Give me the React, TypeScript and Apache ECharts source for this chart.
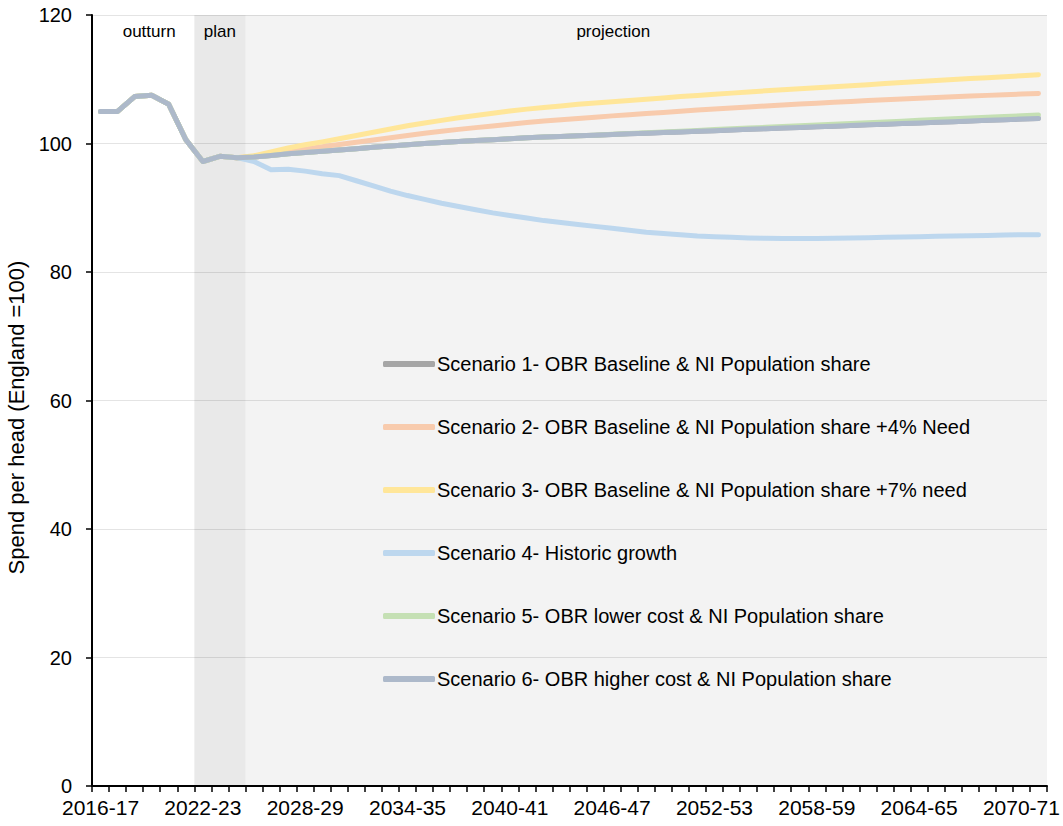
import React, { useEffect, useRef } from "react";
import * as echarts from "echarts";

const years: string[] = [
  "2016-17", "2017-18", "2018-19", "2019-20", "2020-21", "2021-22", "2022-23", "2023-24",
  "2024-25", "2025-26", "2026-27", "2027-28", "2028-29", "2029-30", "2030-31", "2031-32",
  "2032-33", "2033-34", "2034-35", "2035-36", "2036-37", "2037-38", "2038-39", "2039-40",
  "2040-41", "2041-42", "2042-43", "2043-44", "2044-45", "2045-46", "2046-47", "2047-48",
  "2048-49", "2049-50", "2050-51", "2051-52", "2052-53", "2053-54", "2054-55", "2055-56",
  "2056-57", "2057-58", "2058-59", "2059-60", "2060-61", "2061-62", "2062-63", "2063-64",
  "2064-65", "2065-66", "2066-67", "2067-68", "2068-69", "2069-70", "2070-71", "2071-72",
];

// outturn + plan years (2016-17 .. 2024-25), common to every scenario
const history: number[] = [105.0, 105.0, 107.3, 107.5, 106.1, 100.6, 97.2, 98.0, 97.8];

// projections 2025-26 .. 2071-72
const scen1: number[] = [
  97.9, 98.15, 98.4, 98.6, 98.8, 99.0, 99.2, 99.4, 99.6, 99.8, 100.0, 100.15, 100.3, 100.45,
  100.6, 100.75, 100.9, 101.0, 101.1, 101.2, 101.3, 101.4, 101.5, 101.6, 101.7, 101.8, 101.9,
  102.0, 102.1, 102.2, 102.3, 102.4, 102.5, 102.6, 102.7, 102.8, 102.9, 103.0, 103.1, 103.2,
  103.3, 103.4, 103.5, 103.6, 103.7, 103.8, 103.9,
];
const scen2: number[] = [
  98.0, 98.4, 98.8, 99.15, 99.5, 99.85, 100.2, 100.55, 100.9, 101.25, 101.6, 101.9, 102.2,
  102.47, 102.74, 103.01, 103.28, 103.5, 103.7, 103.9, 104.1, 104.3, 104.48, 104.66, 104.84,
  105.02, 105.2, 105.36, 105.52, 105.68, 105.84, 106.0, 106.14, 106.28, 106.42, 106.55, 106.68,
  106.8, 106.92, 107.04, 107.16, 107.27, 107.38, 107.49, 107.6, 107.7, 107.8,
];
const scen3: number[] = [
  98.1, 98.7, 99.3, 99.8, 100.25, 100.75, 101.25, 101.75, 102.25, 102.75, 103.2, 103.6, 104.0,
  104.35, 104.7, 105.05, 105.35, 105.6, 105.85, 106.1, 106.3, 106.5, 106.7, 106.9, 107.1, 107.3,
  107.48, 107.66, 107.84, 108.02, 108.2, 108.36, 108.52, 108.68, 108.84, 109.0, 109.16, 109.32,
  109.48, 109.64, 109.8, 109.95, 110.1, 110.25, 110.4, 110.55, 110.7,
];
const scen4: number[] = [
  97.2, 95.9, 96.0, 95.7, 95.3, 95.0, 94.2, 93.4, 92.6, 91.9, 91.3, 90.7, 90.2, 89.7, 89.2, 88.8,
  88.4, 88.0, 87.7, 87.4, 87.1, 86.8, 86.5, 86.2, 86.0, 85.8, 85.6, 85.5, 85.4, 85.3, 85.25, 85.2,
  85.2, 85.2, 85.25, 85.3, 85.35, 85.4, 85.45, 85.5, 85.55, 85.6, 85.65, 85.7, 85.75, 85.8, 85.8,
];
const scen5: number[] = [
  97.9, 98.15, 98.4, 98.6, 98.8, 99.0, 99.2, 99.4, 99.6, 99.8, 100.0, 100.15, 100.3, 100.45,
  100.6, 100.75, 100.9, 101.0, 101.1, 101.2, 101.3, 101.45, 101.57, 101.68, 101.8, 101.92, 102.04,
  102.16, 102.28, 102.4, 102.52, 102.64, 102.76, 102.88, 103.0, 103.12, 103.24, 103.36, 103.48,
  103.6, 103.72, 103.84, 103.96, 104.08, 104.2, 104.32, 104.45,
];
const scen6: number[] = [
  97.9, 98.15, 98.4, 98.6, 98.8, 99.0, 99.2, 99.4, 99.6, 99.8, 100.0, 100.15, 100.3, 100.45,
  100.6, 100.75, 100.9, 101.0, 101.1, 101.2, 101.3, 101.4, 101.5, 101.6, 101.7, 101.8, 101.9,
  102.0, 102.1, 102.2, 102.3, 102.4, 102.5, 102.6, 102.7, 102.8, 102.9, 103.0, 103.1, 103.2,
  103.3, 103.4, 103.5, 103.6, 103.7, 103.8, 103.9,
];

const seriesNames: string[] = [
  "Scenario 1- OBR Baseline & NI Population share",
  "Scenario 2- OBR Baseline & NI Population share +4% Need",
  "Scenario 3- OBR Baseline & NI Population share +7% need",
  "Scenario 4- Historic growth",
  "Scenario 5- OBR lower cost & NI Population share",
  "Scenario 6- OBR higher cost & NI Population share",
];
const seriesColors: string[] = ["#a6a6a6", "#f8cbad", "#ffe699", "#bdd7ee", "#c5e0b4", "#adb9ca"];
const projections: number[][] = [scen1, scen2, scen3, scen4, scen5, scen6];

// period bands, in category index boundaries
const periodNames: string[] = ["outturn", "plan", "projection"];
const periodStart: number[] = [0, 6, 9];
const periodEnd: number[] = [6, 9, 56];

export default function App() {
  const ref = useRef<HTMLDivElement>(null);
  useEffect(() => {
    if (!ref.current) return;
    const chart = echarts.init(ref.current, null, { renderer: "svg" });
    const font = "'Liberation Sans', Arial, sans-serif";
    const bandColors = ["rgba(0,0,0,0)", "rgba(0,0,0,0.085)", "rgba(0,0,0,0.047)"];
    const bandOffsets = [[6, 0], [0, 0], [-33, 0]];

    const lineSeries = seriesNames.map((name, k) => ({
      name,
      type: "line",
      data: [...history, ...projections[k]],
      symbol: "none",
      z: 3 + k,
      lineStyle: { color: seriesColors[k], width: 5, cap: "round", join: "round" },
      itemStyle: { color: seriesColors[k] },
    }));

    chart.setOption({
      animation: false,
      textStyle: { fontFamily: font },
      grid: { left: 92, right: 16, top: 15, bottom: 40, containLabel: false, outerBoundsMode: "none" },
      legend: {
        orient: "vertical",
        left: 378,
        top: 349,
        itemWidth: 52,
        itemHeight: 6,
        itemGap: 43,
        icon: "roundRect",
        data: seriesNames,
        textStyle: { fontSize: 20, color: "#000", fontFamily: font, lineHeight: 20, padding: [0, 0, 0, -3] },
      },
      xAxis: [
        {
          type: "category",
          data: years,
          boundaryGap: true,
          axisLine: { lineStyle: { color: "#000", width: 2 } },
          axisTick: { show: true, interval: 0, length: 6, lineStyle: { color: "#000", width: 1.5 } },
          axisLabel: { interval: 5, fontSize: 21, lineHeight: 20, color: "#000", margin: 11, fontFamily: font },
          splitLine: { show: false },
        },
        {
          type: "value",
          min: 0,
          max: 56,
          show: false,
        },
      ],
      yAxis: {
        type: "value",
        min: 0,
        max: 120,
        interval: 20,
        name: "Spend per head (England =100)",
        nameLocation: "middle",
        nameGap: 61,
        nameTextStyle: { fontSize: 22, color: "#000", fontFamily: font, padding: [0, 34, 0, 0] },
        axisLine: { show: true, lineStyle: { color: "#000", width: 2 } },
        axisTick: { show: true, length: 6, lineStyle: { color: "#000", width: 1.5 } },
        axisLabel: { fontSize: 20, lineHeight: 16, color: "#000", margin: 20, fontFamily: font },
        splitLine: { show: true, lineStyle: { color: "#e4e4e4", width: 1 } },
      },
      series: [
        {
          name: "periods",
          type: "line",
          xAxisIndex: 1,
          data: [],
          z: 1,
          silent: true,
          markArea: {
            silent: true,
            data: periodNames.map((p, k) => [
              {
                name: p,
                xAxis: periodStart[k],
                itemStyle: { color: bandColors[k] },
                label: {
                  show: true,
                  position: "insideTop",
                  distance: 8,
                  offset: bandOffsets[k],
                  fontSize: 17,
                  color: "#000",
                  fontFamily: font,
                },
              },
              { xAxis: periodEnd[k] },
            ]),
          },
        },
        ...lineSeries,
      ],
    });
    return () => chart.dispose();
  }, []);
  return (
    <div
      ref={ref}
      style={{ position: "fixed", left: 0, top: 0, width: 1063, height: 826, background: "#fff" }}
    />
  );
}
